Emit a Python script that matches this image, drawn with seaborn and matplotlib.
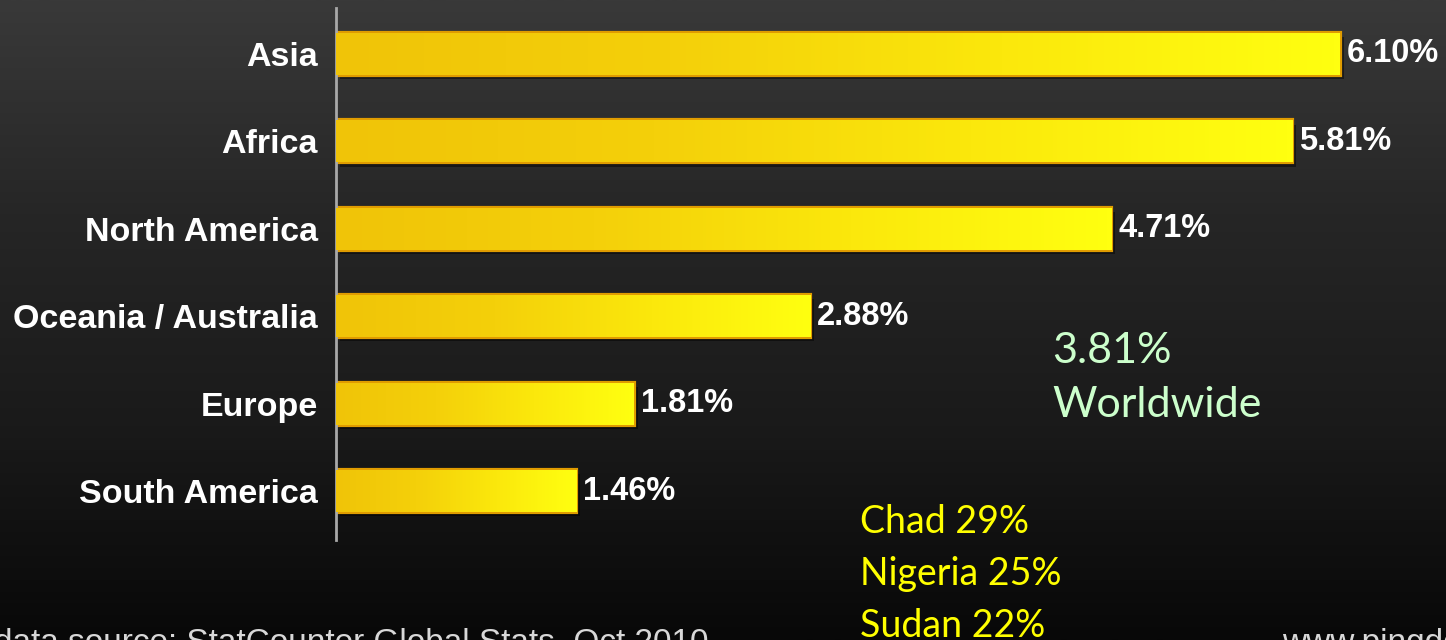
import numpy as np
import pandas as pd
import matplotlib
matplotlib.use("Agg")
import matplotlib.pyplot as plt
import seaborn as sns
from matplotlib import patheffects as pe
from matplotlib.colors import LinearSegmentedColormap

# data
regions = ["Asia", "Africa", "North America", "Oceania / Australia", "Europe", "South America"]
share = [6.10, 5.81, 4.71, 2.88, 1.81, 1.46]
worldwide = ["3.81%", "Worldwide"]
top_countries = ["Chad 29%", "Nigeria 25%", "Sudan 22%"]
source_note = "data source: StatCounter Global Stats, Oct 2010"
site_note = "www.pingdom.com"

df = pd.DataFrame({"region": regions, "share": share})

sns.set_theme(style="dark")
plt.rcParams["font.family"] = ["Liberation Sans", "DejaVu Sans"]

W, H = 1446, 640
fig = plt.figure(figsize=(W / 100, H / 100), dpi=100)

# dark vertical gradient background
bg = fig.add_axes([0, 0, 1, 1])
bg.axis("off")
bg_cmap = LinearSegmentedColormap.from_list("bg", ["#393939", "#262626", "#1a1a1a", "#080808"])
bg.imshow(np.linspace(0, 1, 256).reshape(-1, 1), aspect="auto", cmap=bg_cmap,
          extent=[0, 1, 0, 1], origin="upper")

# main axes, bars start at x=336 px
ax = fig.add_axes([336 / W, 0, 1 - 336 / W, 1])
ax.set_facecolor("none")

sns.barplot(data=df, x="share", y="region", orient="h", width=0.48, ax=ax,
            color="#f8e000", edgecolor="#e09c00", linewidth=3, zorder=2)

px_per_unit = (1340 - 336) / 6.10
ax.set_xlim(0, (W - 336) / px_per_unit)
row = 87.4
ax.set_ylim((H - 54) / row, -54 / row)

# gradient fill inside each bar + drop shadow
bar_cmap = LinearSegmentedColormap.from_list("bar", ["#f0c408", "#f4d00a", "#fbe80c", "#ffff10"])
grad = np.linspace(0, 1, 256).reshape(1, -1)
for patch in ax.patches:
    x0, y0 = patch.get_x(), patch.get_y()
    w, h = patch.get_width(), patch.get_height()
    patch.set_path_effects([pe.SimplePatchShadow(offset=(3, -3), shadow_rgbFace="black", alpha=0.45),
                            pe.Normal()])
    im = ax.imshow(grad, aspect="auto", cmap=bar_cmap, extent=[x0, x0 + w, y0 + h, y0],
                   zorder=3, interpolation="bilinear")
    im.set_clip_path(patch)

ax.bar_label(ax.containers[0], labels=[f"{v:.2f}%" for v in share], padding=5,
             color="white", fontsize=23.5, fontweight="bold", zorder=5)

ax.set_xlabel("")
ax.set_ylabel("")
ax.set_xticks([])
ax.tick_params(axis="y", length=0, pad=13, colors="white")
for lab in ax.get_yticklabels():
    lab.set_fontweight("bold")
    lab.set_fontsize(24.5)
    lab.set_color("white")

for side in ["top", "right", "bottom"]:
    ax.spines[side].set_visible(False)
ax.spines["left"].set_visible(True)
ax.spines["left"].set_color("#a8a8a8")
ax.spines["left"].set_linewidth(2)
ax.spines["left"].set_bounds(-46 / row, 486 / row)
ax.grid(False)

# annotations
for i, line in enumerate(worldwide):
    fig.text(1052 / W, 1 - (363 + 54 * i) / H, line, color="#ccffcc", fontsize=31,
             family=["Lato", "DejaVu Sans"], va="baseline", ha="left")

for i, line in enumerate(top_countries):
    fig.text(860 / W, 1 - (533 + 52 * i) / H, line, color="#ffff00", fontsize=27,
             family=["Lato", "DejaVu Sans"], va="baseline", ha="left")

fig.text(708 / W, 1 - 652 / H, source_note, color="#d8d8d8", fontsize=24,
         va="baseline", ha="right")
fig.text(1282 / W, 1 - 652 / H, site_note, color="#d8d8d8", fontsize=24,
         va="baseline", ha="left")

fig.savefig("out.png", dpi=100)
